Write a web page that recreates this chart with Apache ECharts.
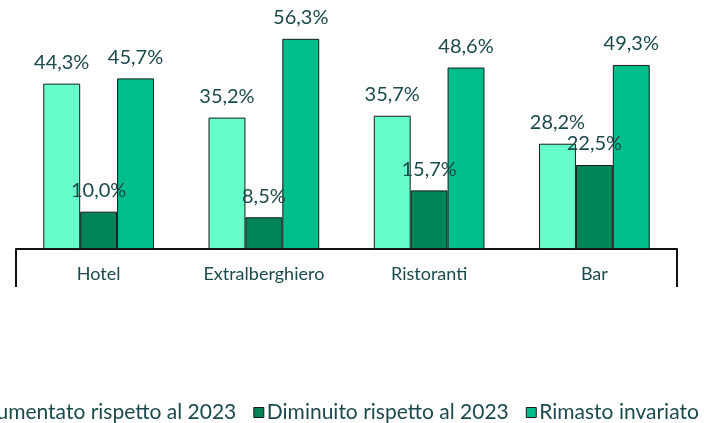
<!DOCTYPE html>
<html>
<head>
<meta charset="utf-8">
<script src="https://cdn.jsdelivr.net/npm/echarts@6/dist/echarts.min.js"></script>
<style>
	html, body { margin: 0; padding: 0; background: #ffffff; }
	#main { width: 707px; height: 423px; }
</style>
</head>
<body>
<div id="main"></div>
<script>
	var categorie = ['Hotel', 'Extralberghiero', 'Ristoranti', 'Bar'];
	var aumentato = [44.3, 35.2, 35.7, 28.2];
	var diminuito = [10.0, 8.5, 15.7, 22.5];
	var invariato = [45.7, 56.3, 48.6, 49.3];
	var nomiSerie = ['Aumentato rispetto al 2023', 'Diminuito rispetto al 2023', 'Rimasto invariato'];
	var colori = ['#66FFCC', '#00845A', '#00BE8C'];

	var testo = '#1B4A4C';
	var font = 'Lato';

	function serie(nome, dati, colore) {
		return {
			name: nome,
			type: 'bar',
			data: dati,
			barGap: '0%',
			barCategoryGap: '33%',
			itemStyle: {
				color: colore,
				borderColor: '#1a1a1a',
				borderWidth: 1
			},
			label: {
				show: true,
				position: 'top',
				distance: 11,
				color: testo,
				fontFamily: font,
				fontSize: 20,
				formatter: function (p) {
					return p.value.toFixed(1).replace('.', ',') + '%';
				}
			}
		};
	}

	var chart = echarts.init(document.getElementById('main'));
	chart.setOption({
		animation: false,
		grid: {
			left: 16,
			right: 30,
			top: 25,
			bottom: 174
		},
		legend: {
			left: -36,
			top: 397,
			width: 1200,
			itemWidth: 10,
			itemHeight: 10,
			itemGap: 17,
			icon: 'rect',
			textStyle: {
				color: testo,
				fontFamily: font,
				fontSize: 21,
				padding: [0, 0, 0, -2]
			},
			itemStyle: {
				borderColor: '#1a1a1a',
				borderWidth: 1
			},
			data: nomiSerie
		},
		xAxis: {
			type: 'category',
			data: categorie,
			axisLine: {
				lineStyle: { color: '#111', width: 2 }
			},
			axisTick: {
				show: true,
				// solo i due bordi esterni
				interval: function (i) { return i === 0; },
				length: 38,
				lineStyle: { color: '#111', width: 2 }
			},
			axisLabel: {
				interval: 0,
				margin: 16,
				color: testo,
				fontFamily: font,
				fontSize: 18
			}
		},
		yAxis: {
			type: 'value',
			min: 0,
			max: 60,
			show: false
		},
		series: [
			serie(nomiSerie[0], aumentato, colori[0]),
			serie(nomiSerie[1], diminuito, colori[1]),
			serie(nomiSerie[2], invariato, colori[2])
		]
	});
</script>
</body>
</html>
